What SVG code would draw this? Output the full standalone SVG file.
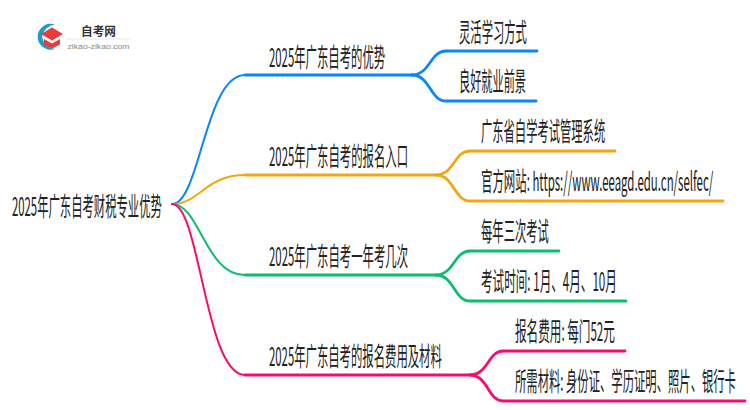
<svg xmlns="http://www.w3.org/2000/svg" width="750" height="410" viewBox="0 0 750 410">
<style>
text{font-family:"Noto Sans CJK SC","Liberation Sans",sans-serif;fill:#222}
.t{font-size:26px}
.c{fill:none;stroke-linecap:round}
.m{stroke-width:2.800}
.b{stroke:#0a84ff}.o{stroke:#f5a50f}.g{stroke:#0cbd6e}.p{stroke:#fb0a6e}
</style>
<rect width="750" height="410" fill="#fff"/>
<g id="connectors">
<path class="c b" stroke-width="2" d="M172 204C200 204 205 75 245 75"/>
<path class="c o" stroke-width="2" d="M172 204C200 204 205 175 245 175"/>
<path class="c g" stroke-width="2" d="M172 204C200 204 205 275 245 275"/>
<path class="c p" stroke-width="2" d="M172 204C200 204 205 375 245 375"/>
<path class="c m b" d="M245 75H412"/>
<path class="c m o" d="M245 175H436"/>
<path class="c m g" d="M245 275H436"/>
<path class="c m p" d="M245 375H470"/>
<path class="c m b" d="M412 75C430 75 430 51 446 51H537"/>
<path class="c m b" d="M412 75C430 75 430 101 446 101H536"/>
<path class="c m o" d="M436 175C454 175 454 151 470 151H615"/>
<path class="c m o" d="M436 175C454 175 454 201 470 201H723"/>
<path class="c m g" d="M436 275C454 275 454 251 470 251H559"/>
<path class="c m g" d="M436 275C454 275 454 301 470 301H626"/>
<path class="c m p" d="M470 375C488 375 488 351 503 351H625"/>
<path class="c m p" d="M470 375C488 375 488 401 503 401H745"/>
</g>
<g id="logo">
<path d="M55 24.500A13 13 0 1 0 55 49A15 15 0 0 1 42 37A15 15 0 0 1 55 24.500Z" fill="#1f9bc8"/>
<path d="M41 34L52 27.500L63 34L52 40.500Z" fill="#ea3a3a"/>
<path d="M44 39V44.500L52 48.500L60 44.500V39L52 43.500Z" fill="#ea3a3a"/>
<text x="81" y="36" font-size="12" font-weight="700" textLength="35" lengthAdjust="spacingAndGlyphs" style="fill:#333">自考网</text>
<path d="M66 39H131" stroke="#e8e8e8"/>
<text x="67.500" y="49" font-size="8" textLength="62" lengthAdjust="spacingAndGlyphs" style="font-family:'Liberation Sans',sans-serif;fill:#888">zikao-zikao.com</text>
</g>
<g id="root"><text class="t" transform="translate(12 216) scale(.45 1)" textLength="333" lengthAdjust="spacingAndGlyphs">2025年广东自考财税专业优势</text></g>
<g id="n1"><text class="t" transform="translate(269 67) scale(.45 1)" textLength="258" lengthAdjust="spacingAndGlyphs">2025年广东自考的优势</text></g>
<g id="n2"><text class="t" transform="translate(269 166) scale(.45 1)" textLength="309" lengthAdjust="spacingAndGlyphs">2025年广东自考的报名入口</text></g>
<g id="n3"><text class="t" transform="translate(269 266) scale(.45 1)" textLength="309" lengthAdjust="spacingAndGlyphs">2025年广东自考一年考几次</text></g>
<g id="n4"><text class="t" transform="translate(269 366) scale(.45 1)" textLength="384" lengthAdjust="spacingAndGlyphs">2025年广东自考的报名费用及材料</text></g>
<g id="n1a"><text class="t" transform="translate(459 42) scale(.45 1)" textLength="151" lengthAdjust="spacingAndGlyphs">灵活学习方式</text></g>
<g id="n1b"><text class="t" transform="translate(459 91) scale(.45 1)" textLength="149" lengthAdjust="spacingAndGlyphs">良好就业前景</text></g>
<g id="n2a"><text class="t" transform="translate(481 141) scale(.45 1)" textLength="276" lengthAdjust="spacingAndGlyphs">广东省自学考试管理系统</text></g>
<g id="n2b"><text class="t" transform="translate(481 191) scale(.45 1)" textLength="516" lengthAdjust="spacingAndGlyphs">官方网站: https://www.eeagd.edu.cn/selfec/</text></g>
<g id="n3a"><text class="t" transform="translate(481 241) scale(.45 1)" textLength="151" lengthAdjust="spacingAndGlyphs">每年三次考试</text></g>
<g id="n3b"><text class="t" transform="translate(481 291) scale(.45 1)" textLength="302" lengthAdjust="spacingAndGlyphs">考试时间: 1月、4月、10月</text></g>
<g id="n4a"><text class="t" transform="translate(515 341) scale(.45 1)" textLength="222" lengthAdjust="spacingAndGlyphs">报名费用: 每门52元</text></g>
<g id="n4b"><text class="t" transform="translate(515 391) scale(.45 1)" textLength="491" lengthAdjust="spacingAndGlyphs">所需材料: 身份证、学历证明、照片、银行卡</text></g>
</svg>
